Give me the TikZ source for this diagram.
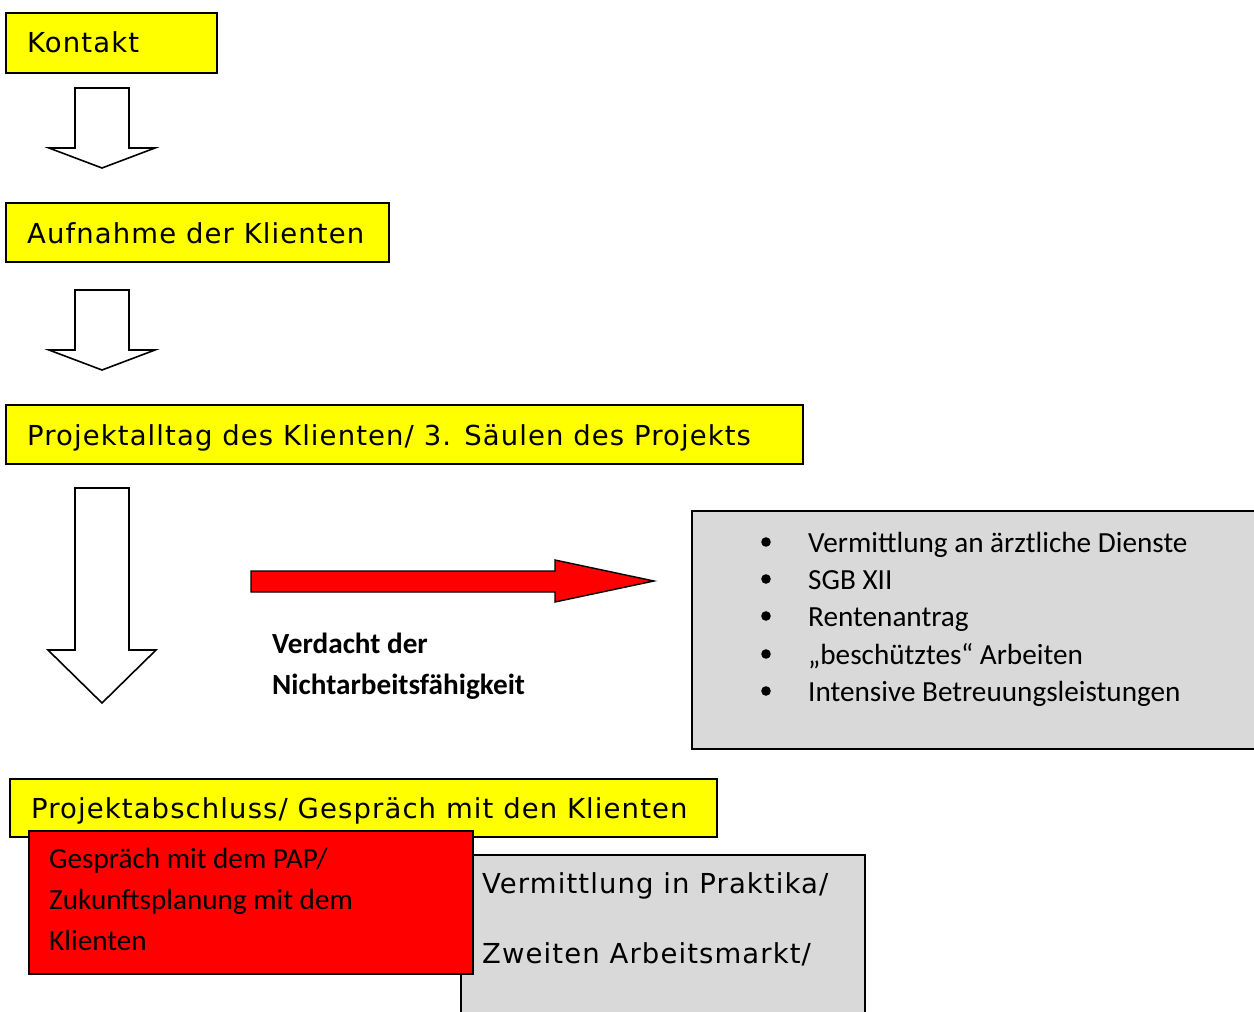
\documentclass[tikz,border=0pt]{standalone}
\usepackage{fontspec}
\newfontfamily\vfont[LetterSpace=4]{DejaVu Sans}
\newfontfamily\cfont{Carlito}
\definecolor{boxgray}{HTML}{D9D9D9}
\definecolor{boxyellow}{HTML}{FFFF00}
\definecolor{boxred}{HTML}{FF0000}
\begin{document}
\begin{tikzpicture}[x=1pt,y=-1pt,
  box/.style={draw=black, line width=1.6pt, anchor=north west, inner sep=0pt},
  ybox/.style={box, fill=boxyellow},
  rbox/.style={box, fill=boxred},
  gbox/.style={box, fill=boxgray},
  vtext/.style={anchor=base west, inner sep=0pt, font=\vfont\fontsize{27.5}{33}\selectfont},
  ctext/.style={anchor=base west, inner sep=0pt, font=\cfont\fontsize{29.2}{35}\selectfont},
  btext/.style={ctext, font=\cfont\bfseries\fontsize{29.2}{35}\selectfont},
  blockarrow/.style={draw=black, line width=1.6pt, fill=white, line join=miter},
  redarrow/.style={draw=black, line width=1.4pt, fill=boxred, line join=miter}]
\useasboundingbox (0,0) rectangle (1254,1012);

% yellow step boxes
\node[ybox, minimum width=211pt, minimum height=60pt] (kontakt) at (5,12) {};
\node[vtext] (tkontakt) at (27,52) {Kontakt};

\node[ybox, minimum width=383pt, minimum height=59pt] (aufnahme) at (5,202) {};
\node[vtext] (taufnahme) at (27,243) {Aufnahme der Klienten};

\node[ybox, minimum width=797pt, minimum height=59pt] (alltag) at (5,404) {};
\node[vtext] (talltag) at (27,445) {Projektalltag des Klienten/ 3. Säulen des Projekts};

% block arrows
\path[blockarrow] (75,88) -- (129,88) -- (129,148) -- (155,148) -- (102,168) -- (49,148) -- (75,148) -- cycle;
\path[blockarrow] (75,290) -- (129,290) -- (129,350) -- (155,350) -- (102,370) -- (49,350) -- (75,350) -- cycle;
\path[blockarrow] (75,488) -- (129,488) -- (129,650) -- (156,650) -- (102,703) -- (48,650) -- (75,650) -- cycle;

% red arrow
\path[redarrow] (251,571) -- (555,571) -- (555,560) -- (654,581) -- (555,602) -- (555,592) -- (251,592) -- cycle;

\node[btext] (verdacht1) at (272,653) {Verdacht der};
\node[btext] (verdacht2) at (272,694) {Nichtarbeitsfähigkeit};

% list box
\node[gbox, minimum width=580pt, minimum height=238pt] (liste) at (691,510) {};
\node[ctext] (l1) at (808,552) {Vermittlung an ärztliche Dienste};
\node[ctext] (l2) at (808,589) {SGB XII};
\node[ctext] (l3) at (808,626) {Rentenantrag};
\node[ctext] (l4) at (808,664) {„beschütztes“ Arbeiten};
\node[ctext] (l5) at (808,701) {Intensive Betreuungsleistungen};
\foreach \y/\n in {542/b1,579/b2,616/b3,654/b4,691/b5}
  \fill (766,\y) circle (4.8pt);

% bottom boxes
\node[ybox, minimum width=707pt, minimum height=58pt] (abschluss) at (9,778) {};
\node[vtext] (tabschluss) at (31,818) {Projektabschluss/ Gespräch mit den Klienten};

\node[gbox, minimum width=404pt, minimum height=200pt] (vermittlung) at (460,854) {};
\node[vtext] (tv1) at (482,893) {Vermittlung in Praktika/};
\node[vtext] (tv2) at (482,963) {Zweiten Arbeitsmarkt/};

\node[rbox, minimum width=444pt, minimum height=143pt] (pap) at (28,830) {};
\node[ctext] (tp1) at (49,868) {Gespräch mit dem PAP/};
\node[ctext] (tp2) at (49,909) {Zukunftsplanung mit dem};
\node[ctext] (tp3) at (49,950) {Klienten};
\end{tikzpicture}
\end{document}
